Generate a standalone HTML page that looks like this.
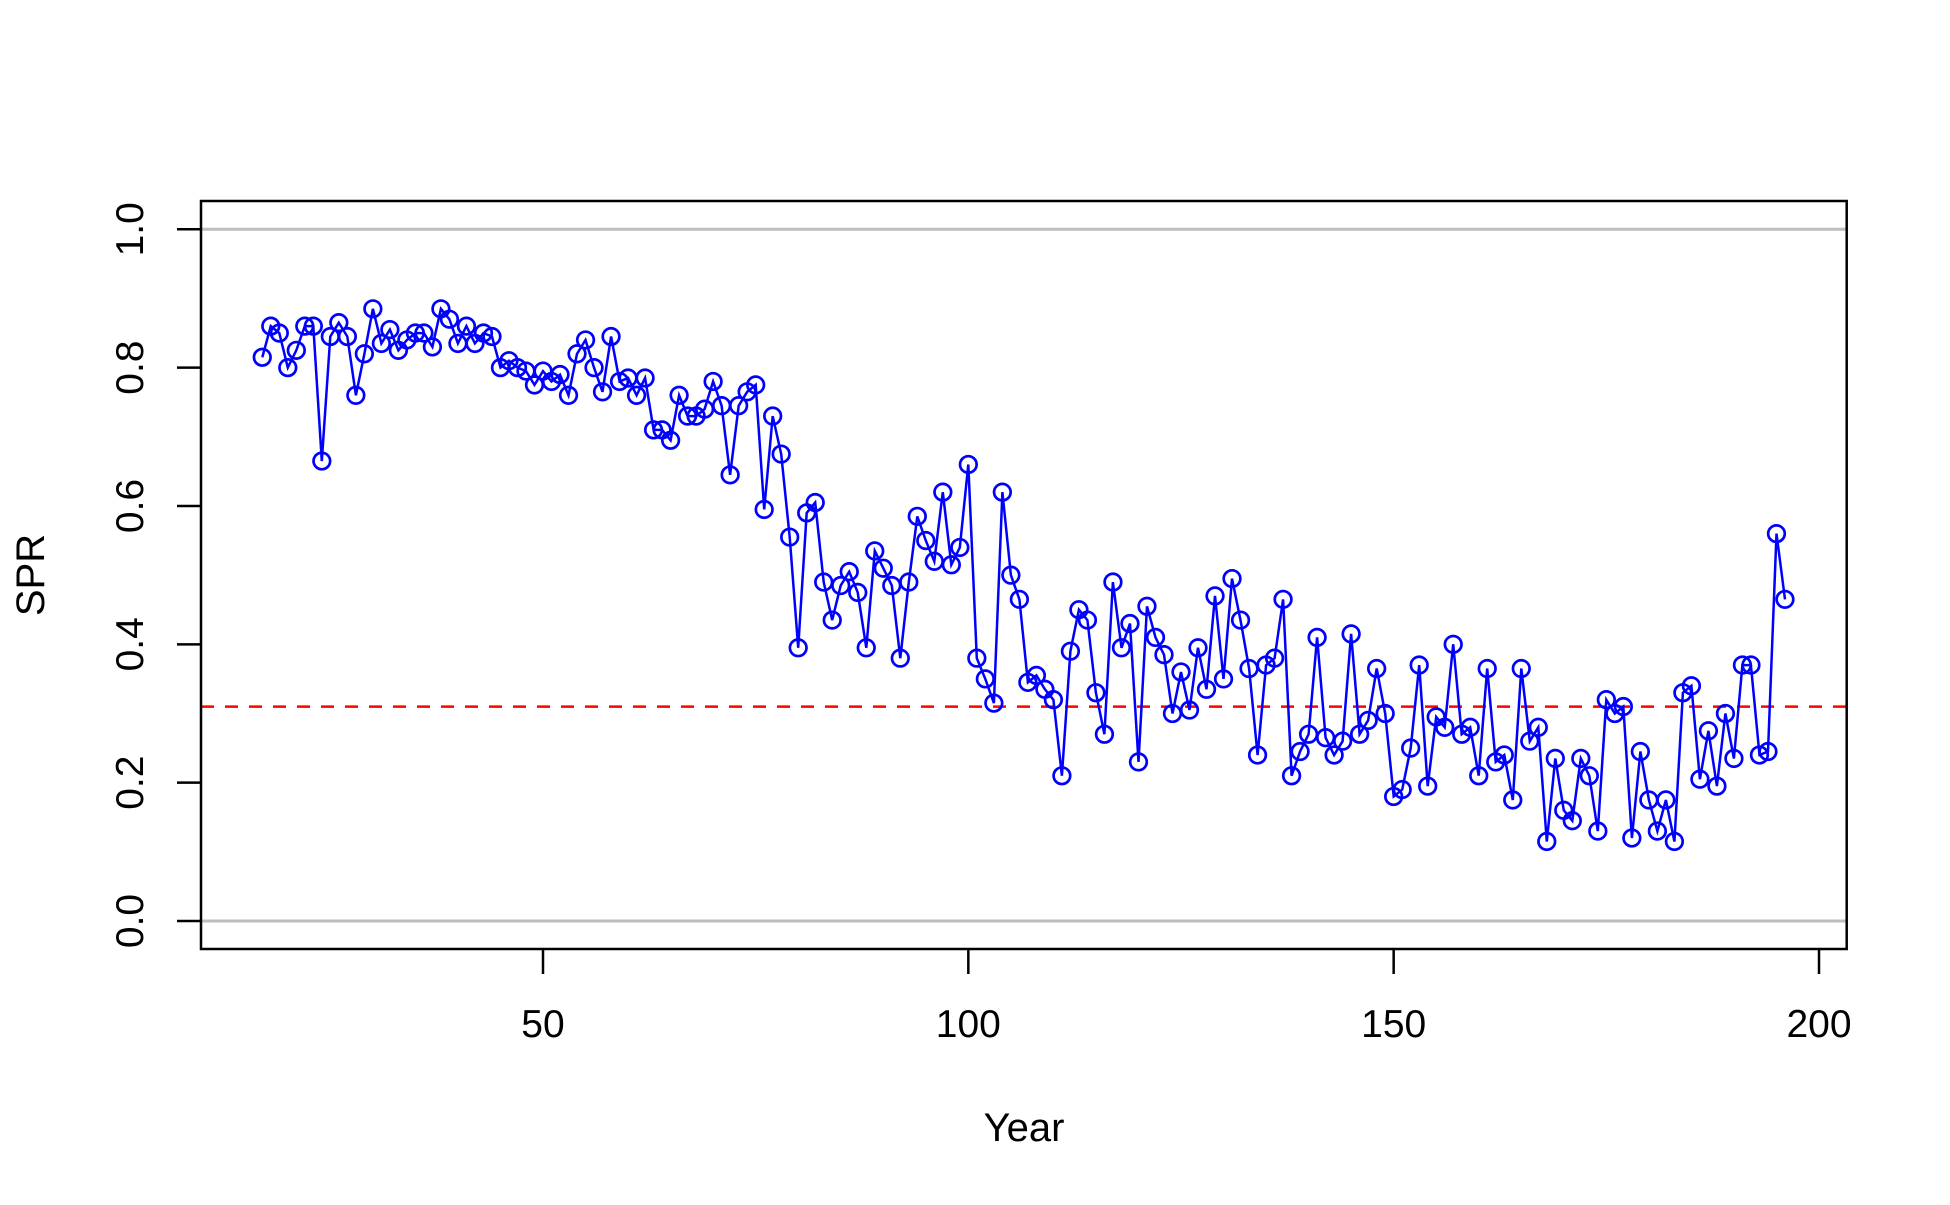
<!DOCTYPE html>
<html><head><meta charset="utf-8"><style>
html,body{margin:0;padding:0;background:#fff;}
svg text{font-family:"Liberation Sans",Arial,sans-serif;fill:#000;}
</style></head><body>
<svg id="chart" width="1950" height="1200" viewBox="0 0 1950 1200" xmlns="http://www.w3.org/2000/svg">
<g id="grid"></g>
<g id="series"></g>
<g id="axes"></g>
<rect x="201" y="201" width="1645.7" height="748" fill="none" stroke="#000" stroke-width="2.5"/>
<text x="1024" y="1141" font-size="40" text-anchor="middle">Year</text>
<text x="0" y="0" font-size="40" text-anchor="middle" transform="translate(44,575) rotate(-90)">SPR</text>
</svg>
<script>
const startYear = 17;
const sprValues = [0.815,0.86,0.85,0.80,0.825,0.86,0.86,0.665,0.845,0.865,0.845,0.76,0.82,0.885,0.835,0.855,0.825,0.84,0.85,0.85,0.83,0.885,0.87,0.835,0.86,0.835,0.85,0.845,0.80,0.81,0.80,0.795,0.775,0.795,0.78,0.79,0.76,0.82,0.84,0.80,0.765,0.845,0.78,0.785,0.76,0.785,0.71,0.71,0.695,0.76,0.73,0.73,0.74,0.78,0.745,0.645,0.745,0.765,0.775,0.595,0.73,0.675,0.555,0.395,0.59,0.605,0.49,0.435,0.485,0.505,0.475,0.395,0.535,0.51,0.485,0.38,0.49,0.585,0.55,0.52,0.62,0.515,0.54,0.66,0.38,0.35,0.315,0.62,0.50,0.465,0.345,0.355,0.335,0.32,0.21,0.39,0.45,0.435,0.33,0.27,0.49,0.395,0.43,0.23,0.455,0.41,0.385,0.30,0.36,0.305,0.395,0.335,0.47,0.35,0.495,0.435,0.365,0.24,0.37,0.38,0.465,0.21,0.245,0.27,0.41,0.265,0.24,0.26,0.415,0.27,0.29,0.365,0.30,0.18,0.19,0.25,0.37,0.195,0.295,0.28,0.40,0.27,0.28,0.21,0.365,0.23,0.24,0.175,0.365,0.26,0.28,0.115,0.235,0.16,0.145,0.235,0.21,0.13,0.32,0.30,0.31,0.12,0.245,0.175,0.13,0.175,0.115,0.33,0.34,0.205,0.275,0.195,0.30,0.235,0.37,0.37,0.24,0.245,0.56,0.465];
const xTicks = [50,100,150,200];
const yTicks = [0,0.2,0.4,0.6,0.8,1.0];
const yTickLabels = ["0.0","0.2","0.4","0.6","0.8","1.0"];
const refLines = [0,1];
const targetSPR = 0.31;

const NS="http://www.w3.org/2000/svg";
const X0=201, X1=1846.7;
function xs(v){return 543+(v-50)*(1819-543)/150;}
function ys(v){return 921-v*(921-229.3);}
function mk(tag,attrs,parent){const e=document.createElementNS(NS,tag);for(const k in attrs)e.setAttribute(k,attrs[k]);parent.appendChild(e);return e;}
const grid=document.getElementById('grid'),series=document.getElementById('series'),axes=document.getElementById('axes');
refLines.forEach(v=>{
  const l=mk('line',{x1:X0,x2:X1,y1:ys(v),y2:ys(v),stroke:'#bebebe','stroke-width':3},grid);
  
  
});
const tl=mk('line',{x1:X0,x2:X1,y1:ys(targetSPR),y2:ys(targetSPR),stroke:'#ff0000','stroke-width':2.5,'stroke-dasharray':'13 11'},grid);


const pts=sprValues.map((v,i)=>[xs(startYear+i),ys(v)]);
const pl=mk('polyline',{points:pts.map(p=>p[0].toFixed(1)+','+p[1].toFixed(1)).join(' '),fill:'none',stroke:'#0000ff','stroke-width':2.5},series);


pts.forEach((p,i)=>{
  const c=mk('circle',{cx:p[0],cy:p[1],r:8.3,fill:'none',stroke:'#0000ff','stroke-width':2.7},series);
  
  
});
xTicks.forEach(t=>{
  const l=mk('line',{x1:xs(t),x2:xs(t),y1:949,y2:974,stroke:'#000','stroke-width':2.5},axes);
  
  
  const tx=mk('text',{x:xs(t),y:1037,'font-size':39,'text-anchor':'middle'},axes);
  tx.textContent=t;
  
  
});
yTicks.forEach((t,i)=>{
  const l=mk('line',{x1:177,x2:201,y1:ys(t),y2:ys(t),stroke:'#000','stroke-width':2.5},axes);
  
  
  const tx=mk('text',{x:0,y:0,'font-size':39,'text-anchor':'middle',transform:'translate(143,'+ys(t)+') rotate(-90)'},axes);
  tx.textContent=yTickLabels[i];
  
  
});
</script>
</body></html>
